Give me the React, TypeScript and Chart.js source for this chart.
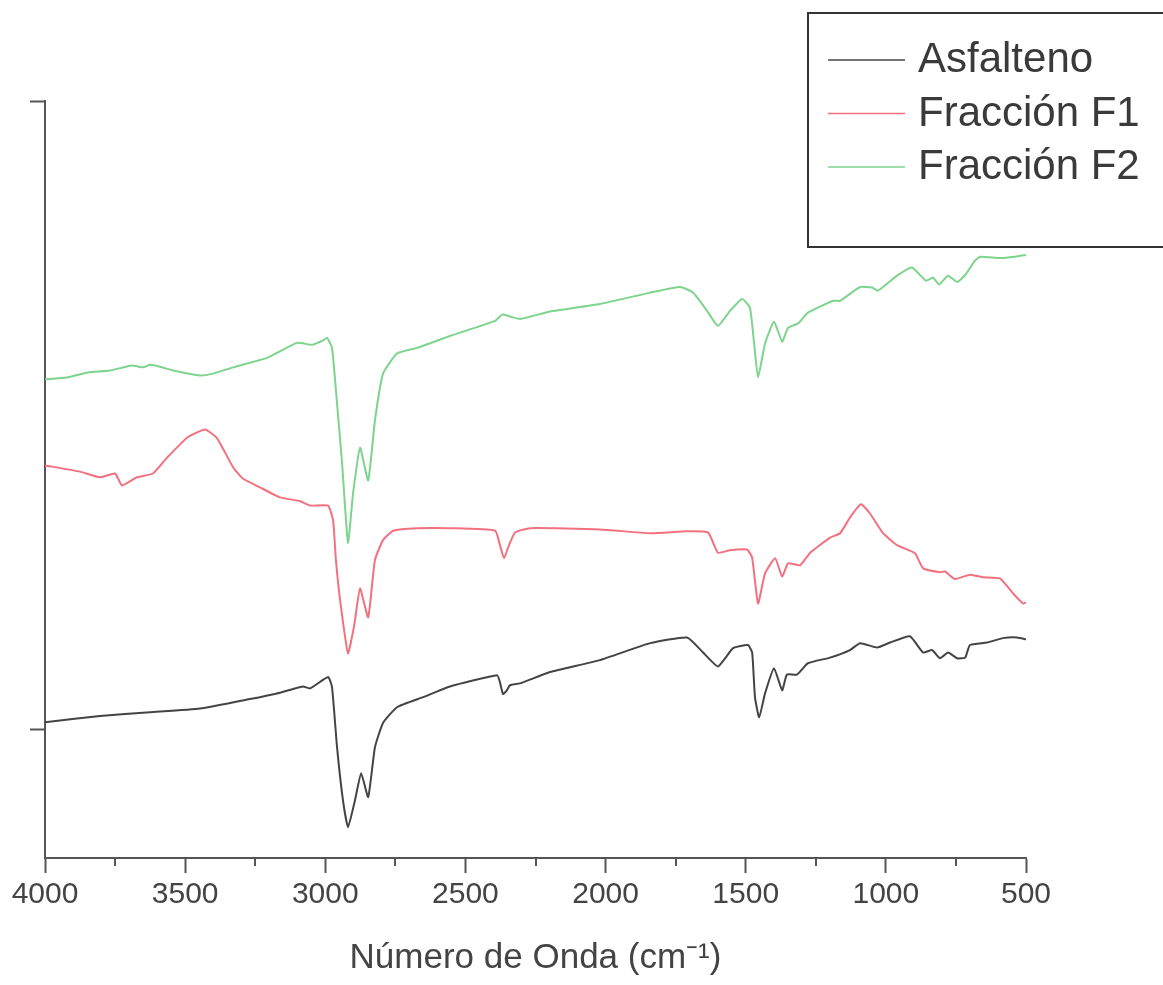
import React, { useEffect, useRef } from 'react';
import { Chart, registerables } from 'chart.js';

Chart.register(...registerables);

const FONT = '"Liberation Sans", Arial, sans-serif';

const seriesLabels = ['Asfalteno', 'Fracción F1', 'Fracción F2'];
const seriesColors = ['#444444', '#f3717f', '#7dd48c'];

const xTickValues = [4000, 3750, 3500, 3250, 3000, 2750, 2500, 2250, 2000, 1750, 1500, 1250, 1000, 750, 500];
const yTickValues = [0, 100];

const asfaltenoWn = [4000, 3804, 3625, 3447, 3269, 3172, 3080, 3054, 2990, 2976, 2958, 2937, 2919, 2894, 2872, 2847, 2823, 2794, 2744, 2651, 2555, 2387, 2377, 2366, 2352, 2341, 2305, 2198, 2020, 1841, 1709, 1652, 1599, 1545, 1492, 1477, 1467, 1452, 1431, 1399, 1370, 1353, 1317, 1278, 1199, 1128, 1092, 1031, 985, 914, 867, 835, 807, 778, 746, 717, 700, 639, 582, 532, 500];
const asfaltenoVal = [1.1, 2.1, 2.7, 3.3, 4.8, 5.7, 6.8, 6.5, 8.3, 6.7, -2.9, -11.3, -15.6, -11.3, -7.0, -10.8, -2.9, 1.0, 3.5, 5.1, 6.8, 8.6, 7.5, 5.6, 6.2, 7.0, 7.3, 9.1, 11.0, 13.7, 14.6, 12.2, 10.0, 12.9, 13.4, 12.2, 5.1, 1.9, 5.7, 9.7, 6.2, 8.7, 8.7, 10.5, 11.4, 12.6, 13.7, 13.0, 13.8, 14.8, 12.2, 12.6, 11.3, 12.2, 11.3, 11.4, 13.4, 13.8, 14.5, 14.6, 14.3];

const f1Wn = [4000, 3875, 3804, 3750, 3725, 3672, 3615, 3565, 3493, 3429, 3386, 3329, 3294, 3233, 3162, 3090, 3054, 2990, 2972, 2962, 2947, 2919, 2897, 2876, 2847, 2823, 2794, 2758, 2673, 2555, 2394, 2377, 2362, 2348, 2323, 2270, 2020, 1841, 1709, 1634, 1599, 1556, 1495, 1477, 1456, 1431, 1395, 1370, 1349, 1306, 1270, 1199, 1163, 1128, 1089, 1056, 1010, 960, 896, 867, 807, 789, 753, 700, 653, 593, 546, 510, 500];
const f1Val = [42.0, 41.0, 40.1, 40.7, 38.8, 40.1, 40.7, 43.2, 46.4, 47.7, 46.3, 41.7, 39.9, 38.5, 36.9, 36.3, 35.6, 35.6, 33.2, 26.9, 20.5, 12.1, 16.5, 22.4, 17.8, 26.9, 30.1, 31.6, 32.0, 32.0, 31.6, 29.3, 27.2, 28.9, 31.3, 32.0, 31.8, 31.2, 31.5, 31.3, 28.1, 28.5, 28.6, 27.3, 20.0, 24.8, 27.2, 24.3, 26.4, 26.1, 28.1, 30.5, 31.2, 33.7, 35.8, 34.3, 31.2, 29.3, 28.0, 25.6, 25.0, 25.1, 23.9, 24.6, 24.2, 24.0, 21.6, 20.0, 20.2];

const f2Wn = [4000, 3922, 3847, 3768, 3690, 3650, 3625, 3590, 3543, 3447, 3401, 3329, 3208, 3101, 3047, 3008, 2994, 2976, 2958, 2940, 2919, 2901, 2876, 2847, 2823, 2794, 2744, 2673, 2555, 2394, 2369, 2341, 2305, 2198, 2020, 1841, 1734, 1688, 1638, 1599, 1556, 1513, 1485, 1470, 1456, 1431, 1399, 1370, 1349, 1313, 1278, 1188, 1163, 1092, 1049, 1028, 960, 907, 857, 832, 810, 778, 746, 717, 682, 664, 593, 539, 500];
const f2Val = [55.7, 56.0, 56.8, 57.1, 57.9, 57.6, 58.0, 57.7, 57.1, 56.3, 56.6, 57.6, 59.1, 61.5, 61.2, 61.9, 62.3, 60.7, 51.8, 42.3, 29.7, 37.5, 44.8, 39.6, 49.1, 56.6, 59.8, 60.7, 62.6, 65.0, 66.0, 65.7, 65.3, 66.5, 67.7, 69.5, 70.4, 69.5, 66.6, 64.2, 66.6, 68.5, 67.1, 61.4, 56.0, 61.4, 64.9, 61.7, 63.9, 64.6, 66.3, 68.2, 68.2, 70.4, 70.3, 69.8, 72.2, 73.5, 71.4, 71.9, 70.8, 72.2, 71.2, 72.3, 74.6, 75.2, 75.0, 75.2, 75.5];

const toPoints = (wn: number[], val: number[]) => wn.map((x, i) => ({ x, y: val[i] }));

const minorTicksPlugin = {
  id: 'minorTicks',
  afterDraw(chart: any) {
    const sx = chart.scales.x;
    const ctx = chart.ctx;
    ctx.save();
    ctx.strokeStyle = '#555';
    ctx.lineWidth = 2;
    xTickValues.forEach((v) => {
      if (v % 500 !== 0) {
        const px = Math.round(sx.getPixelForValue(v));
        ctx.beginPath();
        ctx.moveTo(px, sx.top);
        ctx.lineTo(px, sx.top + 8);
        ctx.stroke();
      }
    });
    ctx.restore();
  },
};

const boxLegendPlugin = {
  id: 'boxLegend',
  afterDraw(chart: any) {
    const ctx = chart.ctx;
    ctx.save();
    ctx.fillStyle = '#ffffff';
    ctx.fillRect(808, 13, 400, 234);
    ctx.strokeStyle = '#333';
    ctx.lineWidth = 2;
    ctx.strokeRect(808, 13, 400, 234);
    chart.data.datasets.forEach((ds: any, i: number) => {
      const y = 60 + i * 53.5;
      ctx.strokeStyle = ds.borderColor;
      ctx.lineWidth = 1.5;
      ctx.beginPath();
      ctx.moveTo(828, y);
      ctx.lineTo(905, y);
      ctx.stroke();
      ctx.fillStyle = '#3a3a3a';
      ctx.font = `42px ${FONT}`;
      ctx.textBaseline = 'alphabetic';
      ctx.textAlign = 'left';
      ctx.fillText(ds.label, 918, y + 12);
    });
    ctx.restore();
  },
};

export default function App() {
  const ref = useRef<HTMLCanvasElement | null>(null);

  useEffect(() => {
    if (!ref.current) return;
    const chart = new Chart(ref.current, {
      type: 'line',
      data: {
        datasets: [
          { label: seriesLabels[0], data: toPoints(asfaltenoWn, asfaltenoVal), borderColor: seriesColors[0] },
          { label: seriesLabels[1], data: toPoints(f1Wn, f1Val), borderColor: seriesColors[1] },
          { label: seriesLabels[2], data: toPoints(f2Wn, f2Val), borderColor: seriesColors[2] },
        ].map((d) => ({ ...d, borderWidth: 2, pointRadius: 0, fill: false, tension: 0.15 })),
      },
      options: {
        animation: false,
        responsive: false,
        devicePixelRatio: 1,
        layout: { padding: { top: 101, right: 137, left: 0, bottom: 0 } },
        plugins: { legend: { display: false }, tooltip: { enabled: false }, title: { display: false } },
        scales: {
          x: {
            type: 'linear',
            reverse: true,
            min: 500,
            max: 4000,
            afterBuildTicks: (s: any) => {
              s.ticks = xTickValues.map((v) => ({ value: v }));
            },
            afterFit: (s: any) => {
              s.height = 127;
            },
            ticks: {
              autoSkip: false,
              maxRotation: 0,
              padding: 4,
              color: '#444',
              font: { family: FONT, size: 30 },
              callback: (v: any) => (Number(v) % 500 === 0 ? String(v) : ''),
            },
            grid: {
              display: true,
              drawOnChartArea: false,
              drawTicks: true,
              tickLength: 15,
              tickWidth: 2,
              tickColor: (c: any) => (c.tick && c.tick.value % 500 === 0 ? '#555' : 'rgba(0,0,0,0)'),
            },
            border: { display: true, color: '#555', width: 2 },
            title: {
              display: true,
              text: 'Número de Onda (cm⁻¹)',
              color: '#444',
              font: { family: FONT, size: 35 },
              padding: { top: 0, bottom: 6 },
            },
          },
          y: {
            min: -20.5,
            max: 100,
            afterBuildTicks: (s: any) => {
              s.ticks = yTickValues.map((v) => ({ value: v }));
            },
            afterFit: (s: any) => {
              s.width = 45;
            },
            ticks: { display: false },
            grid: {
              display: true,
              drawOnChartArea: false,
              drawTicks: true,
              tickLength: 15,
              tickWidth: 2,
              tickColor: '#555',
            },
            border: { display: true, color: '#555', width: 2 },
          },
        },
      },
      plugins: [minorTicksPlugin, boxLegendPlugin],
    } as any);
    return () => chart.destroy();
  }, []);

  return (
    <canvas
      ref={ref}
      width={1163}
      height={985}
      style={{ position: 'absolute', left: 0, top: 0, display: 'block', background: '#fff' }}
    />
  );
}
